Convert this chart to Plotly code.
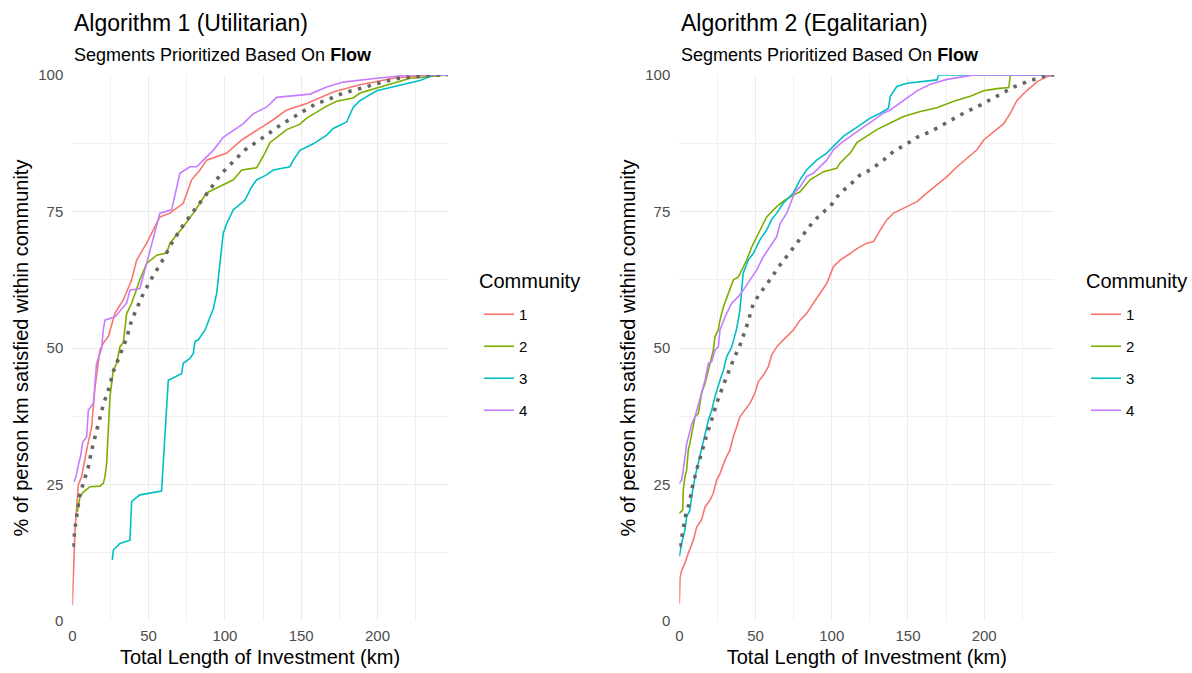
import plotly.graph_objects as go

# ---------------- DATA ----------------
communities = ["1", "2", "3", "4"]
colors = {"1": "#F8766D", "2": "#7CAE00", "3": "#00BFC4", "4": "#C77CFF"}

# Algorithm 1 (Utilitarian)
a1_c1_x = [0, 1.8, 3.9, 6.1, 9.4, 12.7, 14.9, 17.0, 18.1, 20.3, 23.6, 28.0, 33.4, 38.9, 42.2, 48.7, 55.3, 57.4, 64.0, 72.7, 78.2, 83.7, 88.0, 101.2, 111.0, 120.8, 131.7, 140.5, 153.6, 171.0, 188.5, 210.3, 232.2, 246]
a1_c1_y = [2.9, 16.7, 24.9, 26.4, 31.3, 35.6, 42.9, 47.5, 49.6, 50.9, 52.1, 56.4, 58.8, 62.5, 66.1, 69.2, 72.8, 74.0, 74.7, 76.5, 80.8, 82.6, 84.4, 85.7, 88.1, 89.9, 91.8, 93.6, 94.8, 96.9, 98.2, 99.4, 100, 100]

a1_c2_x = [3.3, 5.0, 7.2, 11.6, 18.1, 20.3, 21.4, 22.5, 23.6, 24.7, 26.9, 29.1, 31.2, 33.4, 35.6, 38.9, 44.3, 48.7, 55.3, 61.8, 64.0, 72.7, 79.3, 88.0, 94.6, 105.5, 111.0, 120.8, 126.2, 129.5, 140.5, 149.2, 153.6, 166.7, 173.2, 184.1, 188.5, 199.4, 221.3, 246]
a1_c2_y = [20.0, 22.7, 23.6, 24.6, 24.7, 25.2, 26.4, 28.9, 35.0, 41.1, 46.0, 47.2, 50.2, 51.0, 56.3, 58.2, 62.5, 65.5, 67.0, 67.4, 69.2, 72.2, 74.7, 78.4, 79.3, 80.8, 82.6, 83.0, 85.7, 87.6, 90.0, 91.0, 92.1, 94.3, 95.2, 95.8, 96.7, 97.6, 99.4, 100]

a1_c3_x = [26.2, 26.9, 31.2, 37.8, 38.9, 44.3, 58.5, 62.9, 71.6, 72.7, 77.1, 79.3, 80.4, 82.6, 87.0, 92.4, 94.6, 96.8, 98.9, 101.2, 105.5, 113.2, 117.5, 120.8, 127.3, 131.7, 142.6, 144.8, 149.2, 157.9, 166.7, 171.0, 179.8, 184.1, 188.5, 199.4, 210.3, 227.8, 236.6, 246]
a1_c3_y = [11.2, 13.0, 14.2, 14.8, 21.9, 23.1, 23.8, 44.1, 45.3, 47.2, 48.1, 49.0, 51.2, 51.5, 53.3, 57.2, 60.0, 66.1, 71.0, 72.8, 75.3, 77.1, 79.5, 80.8, 81.7, 82.6, 83.2, 84.4, 86.2, 87.4, 89.0, 90.2, 91.4, 94.1, 95.3, 97.1, 97.8, 99.0, 100, 100]

a1_c4_x = [1.1, 2.4, 3.9, 5.5, 6.8, 9.4, 10.5, 13.8, 15.9, 19.2, 20.3, 21.4, 28.0, 35.6, 37.8, 44.3, 48.7, 50.9, 57.4, 65.1, 70.5, 77.1, 81.5, 85.9, 92.4, 98.9, 105.5, 112.1, 118.6, 127.3, 133.9, 155.8, 166.7, 177.6, 199.4, 221.3, 246]
a1_c4_y = [25.5, 26.4, 28.5, 30.3, 32.8, 33.7, 38.6, 39.9, 47.2, 49.9, 53.3, 55.1, 55.7, 58.2, 60.6, 60.9, 65.5, 67.9, 74.7, 75.3, 82.0, 83.2, 83.2, 84.4, 86.2, 88.6, 89.9, 91.1, 92.9, 94.1, 95.9, 96.5, 97.8, 98.7, 99.4, 100, 100]

a1_all_x = [0.5, 1.6, 4.9, 8.3, 10.5, 12.7, 15.5, 18.1, 20.3, 23.6, 26.9, 31.2, 35.6, 38.9, 46.6, 52.1, 58.6, 66.4, 72.7, 79.3, 85.9, 90.2, 96.8, 104.4, 113.2, 124.2, 136.2, 149.2, 160.1, 166.7, 177.6, 189.6, 200.5, 213.6, 225.6, 238.7, 246]
a1_all_y = [13.6, 16.7, 23.1, 26.1, 28.2, 31.3, 34.4, 37.5, 39.6, 42.3, 45.7, 48.7, 51.8, 55.1, 60.0, 62.8, 65.8, 69.8, 72.5, 75.0, 77.4, 79.0, 81.7, 83.9, 86.3, 88.4, 90.8, 93.0, 94.8, 95.4, 96.7, 97.6, 98.5, 99.4, 99.7, 100, 100]

# Algorithm 2 (Egalitarian)
a2_c1_x = [0, 0.5, 1.6, 3.7, 5.9, 9.2, 11.4, 14.6, 16.9, 20.1, 22.3, 24.5, 26.7, 30.0, 33.2, 35.4, 39.8, 42.0, 46.4, 49.6, 51.8, 55.1, 58.4, 60.6, 63.9, 68.3, 74.8, 79.2, 83.5, 87.9, 92.3, 96.7, 101.1, 105.5, 112.1, 116.5, 123.0, 127.4, 131.8, 136.2, 140.6, 145.0, 149.3, 155.9, 162.5, 169.0, 175.6, 182.2, 188.8, 195.3, 199.7, 206.3, 212.8, 217.2, 221.6, 228.2, 234.8, 241.3, 246]
a2_c1_y = [3.2, 8.0, 9.3, 10.6, 12.4, 14.8, 17.2, 18.5, 20.9, 22.1, 23.4, 25.8, 27.0, 29.5, 31.3, 33.7, 37.4, 38.3, 39.9, 41.7, 43.8, 45.0, 46.6, 48.7, 50.2, 51.5, 53.3, 55.1, 56.3, 58.2, 60.0, 61.8, 64.9, 66.1, 67.3, 68.2, 69.2, 69.5, 71.6, 73.5, 74.7, 75.3, 75.9, 76.8, 78.4, 79.9, 81.4, 83.2, 84.8, 86.3, 88.1, 89.6, 91.1, 93.0, 95.4, 97.2, 98.8, 99.7, 100]

a2_c2_x = [0, 2.2, 2.6, 3.7, 4.8, 5.9, 7.0, 9.2, 10.3, 12.5, 14.6, 16.9, 19.1, 20.1, 22.3, 23.4, 25.6, 26.7, 28.9, 32.2, 35.5, 38.7, 40.9, 44.2, 47.5, 50.8, 54.0, 57.3, 63.9, 69.4, 74.8, 79.2, 85.8, 94.6, 103.3, 105.5, 112.1, 116.5, 123.0, 129.6, 138.4, 147.1, 158.1, 169.0, 180.0, 190.9, 199.7, 208.4, 216.1, 217.2, 246]
a2_c2_y = [19.7, 20.3, 24.0, 26.4, 27.6, 31.3, 32.6, 36.2, 37.4, 38.0, 41.7, 43.5, 45.9, 47.5, 49.6, 52.1, 53.3, 55.1, 57.5, 60.0, 62.5, 63.0, 64.3, 66.1, 68.5, 70.4, 72.2, 74.0, 75.9, 77.1, 78.0, 78.6, 80.8, 82.3, 82.9, 83.9, 85.7, 87.6, 88.8, 90.0, 91.2, 92.4, 93.3, 94.0, 95.2, 96.1, 97.1, 97.5, 97.7, 100, 100]

a2_c3_x = [0, 1.5, 3.7, 4.8, 7.0, 8.0, 10.3, 12.5, 14.6, 16.9, 19.1, 21.3, 23.4, 26.7, 28.9, 31.1, 34.4, 37.6, 39.8, 41.9, 45.2, 48.5, 52.9, 57.3, 60.5, 63.9, 68.2, 74.8, 79.2, 83.5, 90.1, 96.7, 101.1, 107.7, 114.2, 120.8, 125.2, 131.8, 137.2, 138.4, 142.7, 149.3, 160.3, 169.0, 170.1, 246]
a2_c3_y = [11.8, 14.2, 16.7, 19.1, 20.3, 22.7, 26.4, 28.9, 31.3, 34.4, 36.8, 38.6, 41.1, 44.1, 45.9, 48.4, 50.2, 53.5, 57.0, 63.7, 66.1, 67.3, 69.8, 71.6, 73.5, 74.7, 76.5, 78.4, 80.8, 82.6, 84.4, 85.7, 86.9, 88.8, 90.0, 91.2, 92.1, 93.0, 93.9, 96.1, 97.9, 98.5, 98.8, 99.1, 100, 100]

a2_c4_x = [0, 1.5, 2.6, 3.7, 4.8, 7.0, 8.0, 10.3, 12.5, 14.6, 16.9, 19.1, 21.3, 23.4, 25.6, 26.7, 30.0, 34.4, 38.7, 42.0, 46.4, 50.8, 55.1, 59.5, 63.9, 66.1, 70.5, 73.8, 75.9, 79.2, 83.5, 87.9, 96.7, 101.1, 105.5, 109.9, 116.5, 125.2, 133.9, 138.4, 147.1, 155.9, 164.6, 175.6, 186.5, 193.1, 246]
a2_c4_y = [25.2, 25.8, 27.6, 30.6, 32.4, 34.8, 36.0, 37.4, 39.8, 41.7, 44.1, 47.2, 47.5, 49.6, 50.2, 53.3, 55.7, 58.2, 59.4, 60.6, 62.5, 64.3, 66.7, 68.5, 70.4, 72.8, 74.7, 77.1, 78.6, 79.5, 81.4, 82.0, 84.4, 86.3, 87.4, 88.3, 89.6, 91.4, 93.0, 93.6, 95.4, 97.1, 98.3, 99.2, 99.7, 100, 100]

a2_all_x = [0.5, 2.2, 4.4, 6.6, 8.8, 11.9, 14.6, 17.9, 21.2, 24.5, 28.5, 32.2, 35.4, 39.8, 44.2, 48.5, 52.9, 59.5, 66.1, 73.8, 81.4, 86.9, 92.3, 98.9, 105.5, 112.1, 118.6, 125.2, 133.9, 140.5, 149.3, 155.9, 164.6, 175.6, 186.5, 197.5, 208.4, 219.4, 230.3, 242.3, 246]
a2_all_y = [13.6, 16.7, 19.7, 21.6, 24.9, 28.2, 31.0, 34.0, 36.8, 39.9, 42.9, 45.7, 47.8, 50.5, 54.0, 58.1, 60.0, 62.5, 65.2, 68.0, 70.7, 72.8, 74.4, 75.9, 78.4, 79.9, 81.7, 82.6, 84.4, 86.0, 87.4, 88.6, 89.6, 91.4, 93.0, 94.5, 96.1, 97.8, 99.0, 100, 100]

x_ticks = [0, 50, 100, 150, 200]
y_ticks = [0, 25, 50, 75, 100]
titles = ["Algorithm 1 (Utilitarian)", "Algorithm 2 (Egalitarian)"]
subtitle = "Segments Prioritized Based On <b>Flow</b>"
x_title = "Total Length of Investment (km)"
y_title = "% of person km satisfied within community"
legend_title = "Community"

panels = [
    {"series": {"1": (a1_c1_x, a1_c1_y), "2": (a1_c2_x, a1_c2_y), "3": (a1_c3_x, a1_c3_y), "4": (a1_c4_x, a1_c4_y)},
     "all": (a1_all_x, a1_all_y)},
    {"series": {"1": (a2_c1_x, a2_c1_y), "2": (a2_c2_x, a2_c2_y), "3": (a2_c3_x, a2_c3_y), "4": (a2_c4_x, a2_c4_y)},
     "all": (a2_all_x, a2_all_y)},
]

# ---------------- FIGURE ----------------
W, H = 1192, 673
FONT = "Liberation Sans, Arial, Helvetica, sans-serif"
fig = go.Figure()

for i, p in enumerate(panels):
    xa = "x" if i == 0 else "x2"
    ya = "y" if i == 0 else "y2"
    leg = "legend" if i == 0 else "legend2"
    for c in communities:
        xs, ys = p["series"][c]
        fig.add_trace(go.Scatter(
            x=xs, y=ys, mode="lines", name=c, xaxis=xa, yaxis=ya,
            line=dict(color=colors[c], width=1.6),
            legend=leg, legendgroup=f"{i}-{c}", showlegend=True,
            hoverinfo="skip"))
    xs, ys = p["all"]
    fig.add_trace(go.Scatter(
        x=xs, y=ys, mode="lines", name="All", xaxis=xa, yaxis=ya,
        line=dict(color="#666666", width=3.6, dash="3.5px,6.5px"),
        showlegend=False, hoverinfo="skip"))

def px_x(v):
    return v / W

def px_y(v):
    return (H - v) / H

domains_x = [[px_x(72.3), px_x(447.7)], [px_x(679.3), px_x(1054.3)]]
dom_y = [px_y(621), px_y(75)]

axis_common = dict(
    showgrid=True, gridcolor="#EBEBEB", gridwidth=1.3,
    zeroline=False, showline=False, ticks="",
    tickfont=dict(family=FONT, size=15, color="#4D4D4D"),
    title_font=dict(family=FONT, size=20, color="#000000"),
)
for i in range(2):
    sx = "" if i == 0 else "2"
    fig.update_layout(**{
        f"xaxis{sx}": dict(
            domain=domains_x[i], range=[0, 246], tickvals=x_ticks,
            anchor="y" + sx, ticklabelstandoff=4,
            minor=dict(tickvals=[25, 75, 125, 175, 225], showgrid=True,
                       gridcolor="#F0F0F0", gridwidth=0.8),
            title=dict(text=x_title, standoff=6),
            **axis_common),
        f"yaxis{sx}": dict(
            domain=dom_y, range=[0, 100], tickvals=y_ticks,
            anchor="x" + sx, ticklabelstandoff=8,
            minor=dict(tickvals=[12.5, 37.5, 62.5, 87.5], showgrid=True,
                       gridcolor="#F0F0F0", gridwidth=0.8),
            title=dict(text=y_title, standoff=4),
            **axis_common),
    })

legend_common = dict(
    font=dict(family=FONT, size=15, color="#000000"),
    bgcolor="rgba(0,0,0,0)", tracegroupgap=9.5, itemwidth=30,
    xanchor="left", yanchor="top", y=px_y(298),
)
fig.update_layout(
    legend=dict(x=px_x(479), **legend_common),
    legend2=dict(x=px_x(1086), **legend_common),
)

annotations = []
for i, tx in enumerate([72, 679]):
    annotations.append(dict(
        text=titles[i], x=px_x(tx), y=px_y(23), xref="paper", yref="paper",
        xanchor="left", yanchor="middle", showarrow=False,
        font=dict(family=FONT, size=23, color="#000000")))
    annotations.append(dict(
        text=subtitle, x=px_x(tx), y=px_y(55), xref="paper", yref="paper",
        xanchor="left", yanchor="middle", showarrow=False,
        font=dict(family=FONT, size=18, color="#000000")))
for lx in [477, 1084]:
    annotations.append(dict(
        text=legend_title, x=px_x(lx), y=px_y(281), xref="paper", yref="paper",
        xanchor="left", yanchor="middle", showarrow=False,
        font=dict(family=FONT, size=20, color="#000000")))

fig.update_layout(
    width=W, height=H,
    margin=dict(l=0, r=0, t=0, b=0, autoexpand=False),
    paper_bgcolor="white", plot_bgcolor="white",
    annotations=annotations,
    showlegend=True,
)

fig.write_html("out.html", config={"displayModeBar": False},
               post_script="document.body.style.margin='0px';")
